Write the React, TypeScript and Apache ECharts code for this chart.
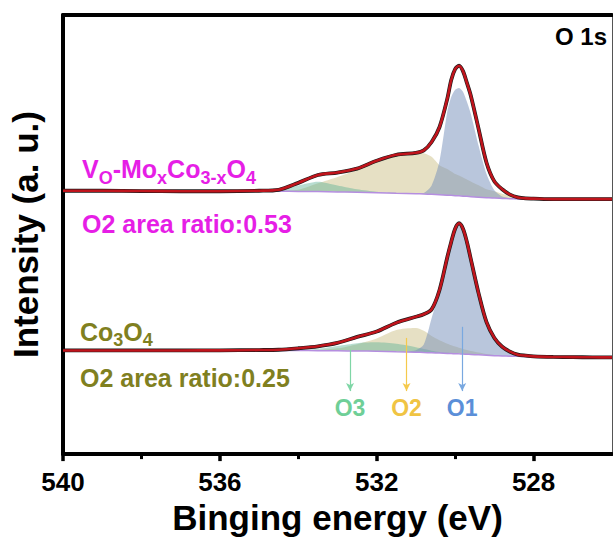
import React, { useEffect, useRef } from "react";
import * as echarts from "echarts";

// Binding energy grid (eV)
const energies = [540, 539, 538, 537, 536, 535, 534.5, 534, 533.5, 533, 532.5, 532, 531.5, 531, 530.8, 530.6, 530.4, 530.2, 530.1, 530.0, 529.9, 529.8, 529.7, 529.6, 529.4, 529.2, 529.0, 528.8, 528.6, 528.4, 528.2, 528, 527.5, 527, 526.5, 526];

// Vo-MoxCo3-xO4 (upper spectrum, offset)
const topEnvelope = [267.5, 267.5, 267.2, 267, 267, 267.5, 268.5, 275.5, 283.5, 286, 290, 298, 304, 306, 308.5, 317, 332, 361, 380, 391, 394.5, 389, 377, 364, 330, 296, 277, 269, 263.5, 260.7, 259.7, 259.5, 259, 259, 259, 259];
const topBackground = [267, 267, 267, 267, 267, 267, 267, 266.8, 266.6, 266.3, 266, 265.5, 265, 264.5, 264.2, 263.9, 263.5, 263, 262.8, 262.5, 262.3, 262, 261.8, 261.5, 261, 260.5, 260, 259.7, 259.4, 259.2, 259, 259, 259, 259, 259, 259];
const topO1 = [0, 0, 0, 0, 0, 0, 0, 0, 0, 0, 0, 0, 0, 0, 1, 9, 34, 85, 100, 107.5, 109.5, 106, 96, 84, 52, 24, 8, 2, 0.5, 0, 0, 0, 0, 0, 0, 0];
const topO2 = [0, 0, 0, 0, 0, 0, 0.5, 1.7, 8.4, 15.2, 22.5, 31.5, 38, 41.5, 41.3, 38, 30, 26.5, 24.2, 22, 20.7, 19, 17.2, 15.5, 12, 8.5, 7, 4.8, 3.1, 2, 1.2, 0.7, 0.2, 0, 0, 0];
const topO3 = [0, 0, 0, 0, 0, 0, 1.5, 6, 10, 6.5, 3, 1, 0.3, 0, 0, 0, 0, 0, 0, 0, 0, 0, 0, 0, 0, 0, 0, 0, 0, 0, 0, 0, 0, 0, 0, 0];

// Co3O4 (lower spectrum)
const botEnvelope = [105.3, 105.3, 105.3, 105.3, 105.4, 105.7, 106, 107.5, 109.5, 113, 119, 124.5, 133.5, 139.5, 142, 147, 166.5, 200, 215.5, 229, 234.5, 229, 215.5, 198, 163, 134, 118, 109, 104, 101, 100, 99.3, 98.7, 98.5, 98.3, 98.2];
const botBackground = [105.2, 105.2, 105.2, 105.2, 105.2, 105.2, 105.2, 105.2, 105, 104.9, 104.7, 104.5, 104, 103.5, 103.2, 102.9, 102.6, 102.3, 102.1, 102, 101.8, 101.6, 101.4, 101.2, 100.8, 100.4, 100, 99.7, 99.5, 99.3, 99.1, 99, 98.7, 98.7, 98.7, 98.7];
const botO1 = [0, 0, 0, 0, 0, 0, 0, 0, 0, 0, 0, 0, 0, 2, 8, 35, 62, 97, 113, 126.5, 132.5, 127, 113.5, 96.5, 62, 33.5, 18, 9, 4.5, 1.7, 0.9, 0.3, 0, 0, 0, 0];
const botO2 = [0, 0, 0, 0, 0, 0, 0, 0, 0.5, 2.5, 7, 13, 22, 24.5, 22, 17, 13, 9.8, 8.5, 7.2, 6.2, 5.2, 4.3, 3.5, 2.3, 1.2, 0.6, 0.3, 0, 0, 0, 0, 0, 0, 0, 0];
const botO3 = [0, 0, 0, 0, 0, 0, 0, 0.5, 2, 5, 8, 9, 8, 5, 3.5, 2.2, 1.2, 0.6, 0.3, 0, 0, 0, 0, 0, 0, 0, 0, 0, 0, 0, 0, 0, 0, 0, 0, 0];

// Peak markers
const peakNames = ["O3", "O2", "O1"];
const peakEnergies = [532.68, 531.24, 529.82];
const arrowTops = [106, 118, 129.3];
const arrowBottom = 64;
const peakTextColors = ["#6fcf97", "#f0c443", "#5b8fd8"];
const peakArrowColors = ["#7fd6a6", "#f5c94c", "#79a8e0"];

// Axis ticks
const majorTicks = [540, 536, 532, 528];
const minorTicks = [538, 534, 530];

const FONT = "'Liberation Sans', Arial, Helvetica, sans-serif";
const MAGENTA = "#e61ee6";
const OLIVE = "#80801f";

function pts(ys: number[]) {
  return energies.map((e, i) => [e, ys[i]]);
}

function band(id: string, base: number[], heights: number[], color: string) {
  return {
    type: "custom",
    name: id,
    silent: true,
    z: 2,
    data: energies.map((e, i) => [e, base[i], base[i] + heights[i]]),
    encode: { x: 0, y: [1, 2] },
    renderItem: (params: any, api: any) => {
      if (params.dataIndex !== 0) return null;
      const upper = energies.map((e, i) => api.coord([e, base[i] + heights[i]]));
      const lower = energies.map((e, i) => api.coord([e, base[i]])).reverse();
      return {
        type: "polygon",
        silent: true,
        shape: { points: upper.concat(lower), smooth: 0.25 },
        style: { fill: color, stroke: "none" },
      };
    },
  };
}

function line(id: string, ys: number[], color: string, width: number, z: number, extra: any = {}) {
  return {
    type: "line",
    name: id,
    data: pts(ys),
    symbol: "none",
    smooth: 0.3,
    silent: true,
    lineStyle: { color, width },
    z,
    ...extra,
  };
}

const C_O1 = "rgba(115,141,185,0.5)";
const C_O2 = "rgba(195,181,115,0.42)";
const C_O3 = "rgba(85,175,145,0.42)";

export default function App() {
  const ref = useRef<HTMLDivElement>(null);
  useEffect(() => {
    if (!ref.current) return;
    const chart = echarts.init(ref.current, null, { renderer: "svg" });
    const arrows = peakNames.map((n, i) => [
      {
        name: n,
        coord: [peakEnergies[i], arrowTops[i]],
        lineStyle: { color: peakArrowColors[i], width: 1.2, type: "solid" },
        label: { color: peakTextColors[i] },
      },
      { coord: [peakEnergies[i], arrowBottom] },
    ]);
    const option: any = {
      animation: false,
      backgroundColor: "#ffffff",
      grid: { left: 62, right: 1, top: 15, bottom: 79, containLabel: false },
      xAxis: [
        {
          type: "value",
          min: 526,
          max: 540,
          interval: 2,
          inverse: true,
          position: "bottom",
          name: "Binging energy (eV)",
          nameLocation: "middle",
          nameGap: 40,
          nameTextStyle: { fontSize: 35, fontWeight: "bold", color: "#000", fontFamily: FONT },
          axisLine: { show: true, lineStyle: { color: "#000", width: 4 } },
          axisTick: { show: true, inside: false, length: 7, lineStyle: { width: 3.5, color: "#000" }, customValues: majorTicks },
          axisLabel: { show: true, margin: 15, fontSize: 26, fontWeight: "bold", color: "#000", fontFamily: FONT, customValues: majorTicks },
          splitLine: { show: false },
        },
        {
          type: "value",
          min: 526,
          max: 540,
          interval: 2,
          inverse: true,
          position: "bottom",
          axisLine: { show: false },
          axisTick: { show: true, inside: false, length: 5, lineStyle: { width: 3, color: "#000" }, customValues: minorTicks },
          axisLabel: { show: false },
          splitLine: { show: false },
        },
        {
          type: "value",
          min: 526,
          max: 540,
          inverse: true,
          position: "top",
          axisLine: { show: true, lineStyle: { color: "#000", width: 4 } },
          axisTick: { show: false },
          axisLabel: { show: false },
          splitLine: { show: false },
        },
      ],
      yAxis: [
        {
          type: "value",
          min: 0,
          max: 446,
          position: "left",
          name: "Intensity (a. u.)",
          nameLocation: "middle",
          nameGap: 20,
          nameTextStyle: { fontSize: 35, fontWeight: "bold", color: "#000", fontFamily: FONT },
          axisLine: { show: true, lineStyle: { color: "#000", width: 4 } },
          axisTick: { show: false },
          axisLabel: { show: false },
          splitLine: { show: false },
        },
        {
          type: "value",
          min: 0,
          max: 446,
          position: "right",
          axisLine: { show: true, lineStyle: { color: "#555", width: 1 } },
          axisTick: { show: false },
          axisLabel: { show: false },
          splitLine: { show: false },
        },
      ],
      series: [
        band("topO2", topBackground, topO2, C_O2),
        band("topO3", topBackground, topO3, C_O3),
        band("topO1", topBackground, topO1, C_O1),
        band("botO2", botBackground, botO2, C_O2),
        band("botO3", botBackground, botO3, C_O3),
        band("botO1", botBackground, botO1, C_O1),
        line("topBg", topBackground, "#b58ee0", 1.5, 3),
        line("botBg", botBackground, "#b58ee0", 1.5, 3, {
          markLine: {
            silent: true,
            symbol: ["none", "arrow"],
            symbolSize: [6, 8],
            animation: false,
            label: {
              show: true,
              position: "end",
              formatter: "{b}",
              fontSize: 23,
              fontWeight: "bold",
              fontFamily: FONT,
              distance: 5,
            },
            data: arrows,
          },
        }),
        line("topRaw", topEnvelope, "#1a1a1a", 3.8, 4),
        line("botRaw", botEnvelope, "#1a1a1a", 3.8, 4),
        line("topFit", topEnvelope, "#c0141c", 2.6, 5),
        line("botFit", botEnvelope, "#c0141c", 2.6, 5),
      ],
      graphic: [
        {
          type: "text",
          x: 607,
          y: 36,
          style: { text: "O 1s", fill: "#000", fontSize: 24, fontWeight: "bold", fontFamily: FONT, align: "right", verticalAlign: "middle" },
        },
        {
          type: "text",
          x: 82,
          y: 169,
          style: {
            text: "{m|V}{s|O}{m|-Mo}{s|x}{m|Co}{s|3-x}{m|O}{s|4}",
            align: "left",
            verticalAlign: "middle",
            rich: {
              m: { fontSize: 25, fontWeight: "bold", fill: MAGENTA, fontFamily: FONT, lineHeight: 26 },
              s: { fontSize: 18, fontWeight: "bold", fill: MAGENTA, fontFamily: FONT, lineHeight: 26, padding: [17, 0, 0, 0] },
            },
          },
        },
        {
          type: "text",
          x: 82,
          y: 224,
          style: { text: "O2 area ratio:0.53", fill: MAGENTA, fontSize: 25, fontWeight: "bold", fontFamily: FONT, align: "left", verticalAlign: "middle" },
        },
        {
          type: "text",
          x: 80,
          y: 331.5,
          style: {
            text: "{m|Co}{s|3}{m|O}{s|4}",
            align: "left",
            verticalAlign: "middle",
            rich: {
              m: { fontSize: 25, fontWeight: "bold", fill: OLIVE, fontFamily: FONT, lineHeight: 26 },
              s: { fontSize: 18, fontWeight: "bold", fill: OLIVE, fontFamily: FONT, lineHeight: 26, padding: [16, 0, 0, 0] },
            },
          },
        },
        {
          type: "text",
          x: 80,
          y: 377.5,
          style: { text: "O2 area ratio:0.25", fill: OLIVE, fontSize: 25, fontWeight: "bold", fontFamily: FONT, align: "left", verticalAlign: "middle" },
        },
      ],
    };
    chart.setOption(option);
    return () => chart.dispose();
  }, []);
  return (
    <div
      ref={ref}
      style={{ position: "absolute", left: 0, top: 0, width: 613, height: 540, background: "#fff" }}
    />
  );
}
